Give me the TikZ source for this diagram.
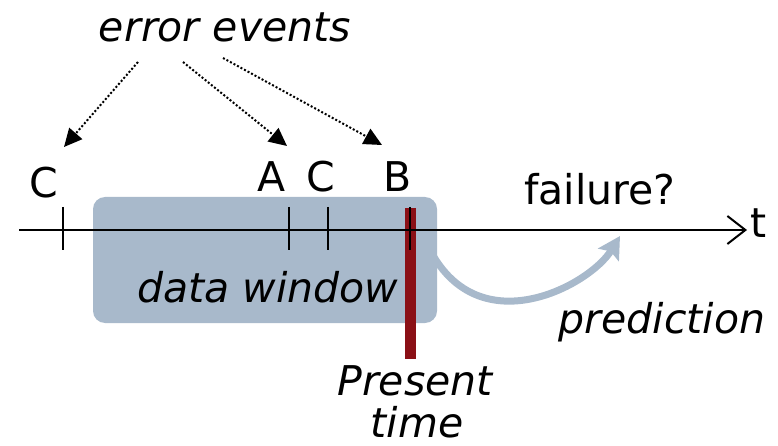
\documentclass[tikz,border=0pt]{standalone}
\usepackage{fontspec}
\setmainfont{DejaVu Sans}
\usetikzlibrary{arrows.meta}
\definecolor{winblue}{HTML}{A8B9CB}
\definecolor{presred}{HTML}{8B1016}
\begin{document}
\begin{tikzpicture}[x=1pt,y=-1pt,
  lbl/.style={font=\fontsize{41}{48}\selectfont, inner sep=0pt, anchor=base},
  ilbl/.style={lbl, font=\fontsize{41}{48}\selectfont\itshape},
  tick/.style={line width=1.6pt, black},
  pointer/.style={dotted, line width=2pt, -{Triangle[length=18pt,width=17pt]}},
  axis/.style={line width=2pt, -{Straight Barb[length=18pt,width=28pt,line width=2pt]}},
  predarrow/.style={line width=7pt, winblue, -{Stealth[length=22pt,width=24pt,inset=4pt]}}
]
\useasboundingbox (0,0) rectangle (778,446);
% prediction arrow (behind the window)
\coordinate (ps) at (430,250);
\coordinate (pe) at (620,236);
\draw[predarrow] (ps) .. controls (480,345) and (590,285) .. (pe);
% data window
\node[fill=winblue, rounded corners=12pt, minimum width=344pt, minimum height=126pt, inner sep=0pt] (win) at (265,260) {};
\node[ilbl] (dw) at (268,302) {data window};
% present time bar
\coordinate (rt) at (410,208);
\coordinate (rb) at (410,359);
\draw[presred, line width=11pt] (rt) -- (rb);
% timeline
\coordinate (ax0) at (19,230);
\coordinate (ax1) at (747,230);
\draw[axis] (ax0) -- (ax1);
\node[lbl] (t) at (759,237) {t};
% ticks
\foreach \n/\x in {c1/63, a/289, c2/328, b/410}{
  \coordinate (\n top) at (\x,207);
  \coordinate (\n bot) at (\x,250);
  \draw[tick] (\n top) -- (\n bot);
}
% labels
\node[lbl] (lc1) at (44,198) {C};
\node[lbl] (la) at (272,192) {A};
\node[lbl] (lc2) at (321,192) {C};
\node[lbl] (lb) at (398,192) {B};
\node[lbl] (fail) at (600,205) {failure?};
\node[ilbl] (pred) at (662,333) {prediction};
\node[ilbl] (pres) at (415,395) {Present};
\node[ilbl] (time) at (417,437) {time};
\node[ilbl] (err) at (225,42) {error events};
% pointers
\coordinate (s1) at (138,62);
\coordinate (e1) at (64,147);
\coordinate (s2) at (183,62);
\coordinate (e2) at (287,146);
\coordinate (s3) at (223,58);
\coordinate (e3) at (382,145);
\draw[pointer] (s1) -- (e1);
\draw[pointer] (s2) -- (e2);
\draw[pointer] (s3) -- (e3);
\end{tikzpicture}
\end{document}
